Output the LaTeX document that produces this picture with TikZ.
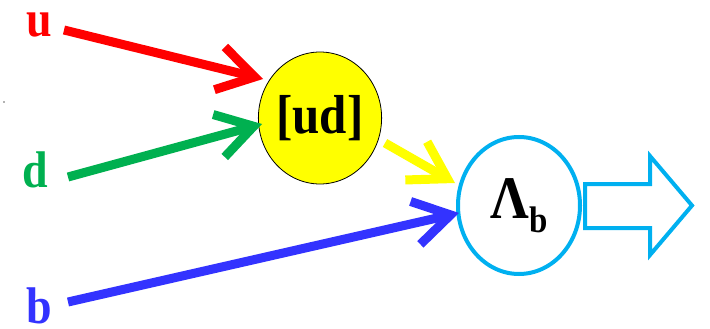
\documentclass[tikz,border=0pt]{standalone}
\usepackage{graphicx}
\usepackage{fontspec}
\setmainfont{Liberation Serif}
\usetikzlibrary{arrows.meta,shapes.geometric}
\definecolor{qred}{RGB}{255,0,0}
\definecolor{qgreen}{RGB}{0,176,80}
\definecolor{qblue}{RGB}{51,51,255}
\definecolor{qyellow}{RGB}{255,255,0}
\definecolor{qcyan}{RGB}{0,176,240}
% text is set slightly taller than wide
\newcommand\vstretch[1]{\scalebox{1}[1.12]{#1}}
\begin{document}
\begin{tikzpicture}[x=1pt,y=-1pt,
  quark/.style={inner sep=0pt, anchor=base west, font=\bfseries\fontsize{46}{46}\selectfont},
  flow/.style={line width=9pt, -{Straight Barb[length=36pt,width=44pt]}},
  hadron/.style={ellipse, inner sep=0pt},
  ]
\useasboundingbox (0,0) rectangle (710,329);

% quark labels
\node[quark, text=qred]   (u) at (26,37)  {\vstretch{u}};
\node[quark, text=qgreen] (d) at (22,187) {\vstretch{d}};
\node[quark, text=qblue]  (b) at (26,323) {\vstretch{b}};

% diquark and baryon
\node[hadron, draw=black, line width=0.8pt, fill=qyellow,
      minimum width=117pt, minimum height=132pt,
      font=\bfseries\fontsize{49}{49}\selectfont] (ud) at (320,118) {\vstretch{[ud]}};
\node[hadron, draw=qcyan, line width=4pt,
      minimum width=122pt, minimum height=137pt,
      font=\bfseries] (lb) at (519,205.5)
  {\raisebox{-3pt}{\vstretch{\fontsize{54}{54}\selectfont Λ\raisebox{-12.5pt}{\fontsize{33}{33}\selectfont b}}}};

% arrow end points
\coordinate (ut) at (64,30);   \coordinate (uh) at (263,79);
\coordinate (dt) at (68,177);  \coordinate (dh) at (262,124);
\coordinate (bt) at (68,302);  \coordinate (bh) at (459,213);
\coordinate (yt) at (385,143); \coordinate (yh) at (455,183);

\draw[flow, qred]    (ut) -- (uh);
\draw[flow, qgreen]  (dt) -- (dh);
\draw[flow, qblue]   (bt) -- (bh);
\draw[flow, qyellow] (yt) -- (yh);

% outgoing hollow arrow
\draw[qcyan, line width=4pt, line join=miter]
  (585,184) -- (650,184) -- (650,156) -- (692,205.5) -- (650,255) -- (650,228) -- (585,228) -- cycle;

% small mark at the left edge
\fill[black!60] (4,102) circle (0.8pt);
\end{tikzpicture}
\end{document}
